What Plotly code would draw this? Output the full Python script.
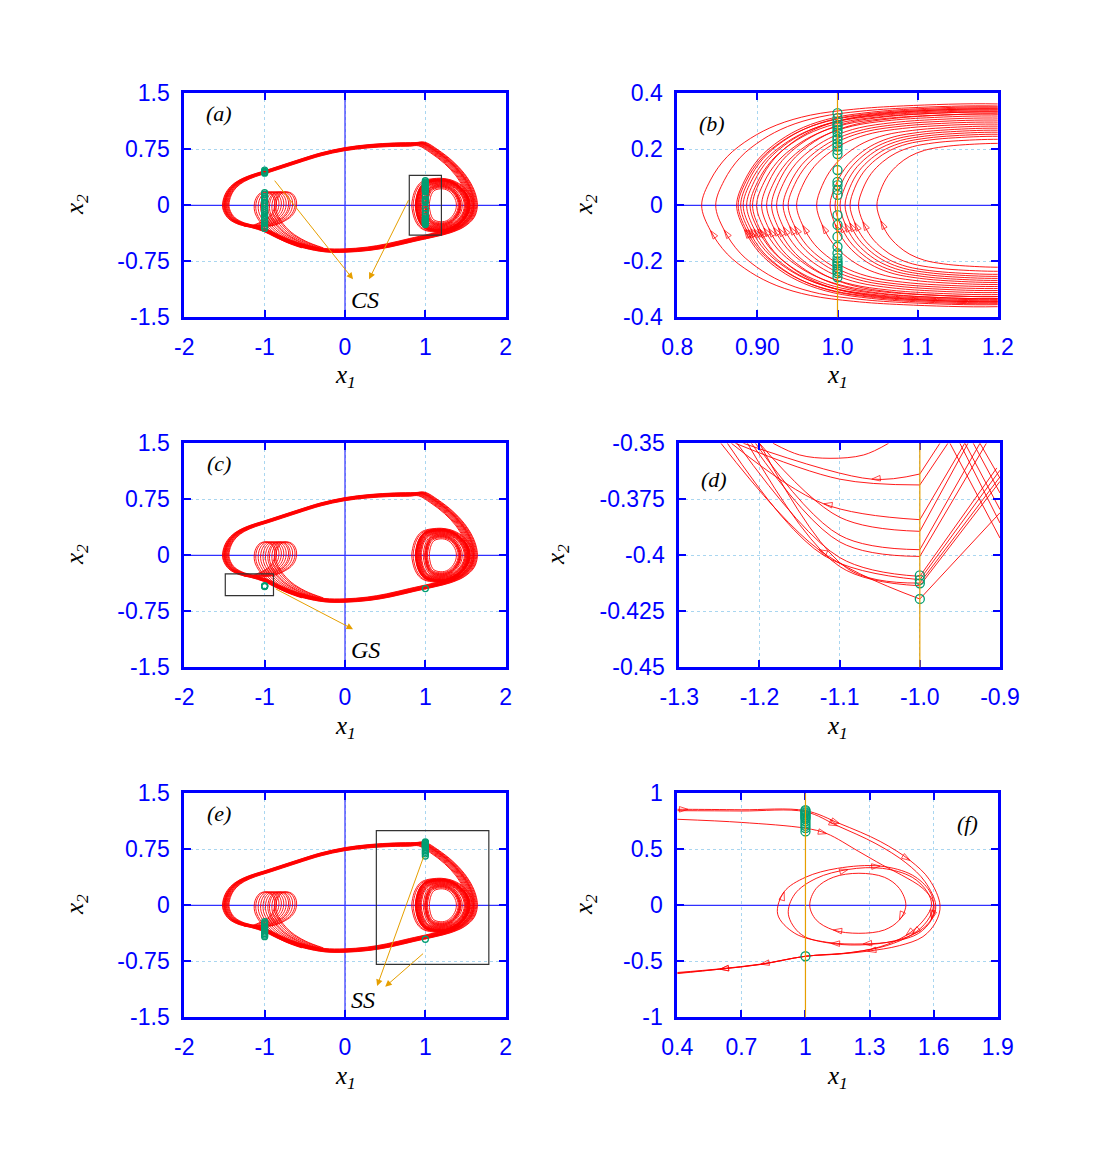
import plotly.graph_objects as go

RED = '#ff0000'
GREEN = '#009e73'
ORANGE = '#e69f00'
BLUE = '#0000ff'

# ---------------------------------------------------------------
# attractor of panels (a), (c), (e)
# ---------------------------------------------------------------
# big orbit, clockwise, starting at the left-most point of the left lobe
orbit_x1 = [-1.50, -1.47, -1.40, -1.30, -1.15, -1.00, -0.80, -0.60, -0.30, 0.00,
            0.30, 0.60, 0.85, 0.97, 1.13, 1.31, 1.45, 1.55, 1.60, 1.61,
            1.57, 1.45, 1.28, 1.10, 0.85, 0.55, 0.30, 0.00, -0.25, -0.50,
            -0.70, -0.85, -1.00, -1.15, -1.30, -1.42, -1.48, -1.50]
orbit_x2 = [0.00, 0.14, 0.25, 0.33, 0.40, 0.45, 0.52, 0.59, 0.69, 0.76,
            0.80, 0.82, 0.825, 0.83, 0.73, 0.58, 0.42, 0.25, 0.10, -0.02,
            -0.16, -0.28, -0.36, -0.41, -0.47, -0.545, -0.59, -0.615, -0.61, -0.56,
            -0.49, -0.42, -0.34, -0.29, -0.25, -0.18, -0.09, 0.00]
# size of the successive passes of the big orbit (width of the band)
orbit_scale = [0.955, 0.962, 0.969, 0.976, 0.982, 0.988, 0.993, 0.997, 1.0, 1.004, 1.009, 1.015, 1.02]
orbit_centre = [-0.25, 0.08]

# one pass through the small loops next to x1 = -1
small_x1 = [-0.40, -0.62, -0.80, -0.92, -0.985, -0.98, -0.93, -0.86, -0.78, -0.735,
            -0.745, -0.80, -0.90, -1.02, -1.12]
small_x2 = [-0.57, -0.48, -0.36, -0.22, -0.08, 0.06, 0.15, 0.18, 0.15, 0.06,
            -0.06, -0.15, -0.22, -0.27, -0.28]
# horizontal position of each of the small loops
small_shift = [-0.14, -0.12, -0.09, -0.06, -0.03, 0.0, 0.03, 0.05, 0.08, 0.11, 0.13]

# outer loop round the right focus (read in panel b), clockwise from its left tip
right_x1 = [0.830, 0.841, 0.862, 0.891, 0.924, 0.966, 1.020, 1.082, 1.200, 1.320,
            1.430, 1.520, 1.580, 1.600, 1.580, 1.520, 1.430, 1.320, 1.200, 1.082,
            1.020, 0.966, 0.924, 0.891, 0.862, 0.841, 0.830]
right_x2 = [0.000, 0.090, 0.174, 0.239, 0.287, 0.322, 0.343, 0.355, 0.362, 0.340,
            0.285, 0.200, 0.105, 0.000, -0.105, -0.200, -0.285, -0.340, -0.362, -0.355,
            -0.343, -0.322, -0.287, -0.239, -0.174, -0.090, 0.000]
right_centre = 1.22
# widths / heights of the other loops relative to the outer one
right_sx = [0.999, 0.954, 0.887, 0.882, 0.874, 0.866, 0.855, 0.844, 0.836, 0.823,
            0.807, 0.791, 0.775, 0.759, 0.738, 0.722, 0.695, 0.631, 0.588, 0.572,
            0.556, 0.540, 0.524, 0.497, 0.438]
right_sy = [1.00, 0.98, 0.97, 0.95, 0.96, 0.93, 0.94, 0.92, 0.95, 0.90,
            0.92, 0.88, 0.90, 0.86, 0.84, 0.82, 0.80, 0.78, 0.76, 0.74,
            0.72, 0.70, 0.68, 0.65, 0.61]

# section points (x1 = +-1)
a_left_x2 = [0.47, 0.455, 0.44, 0.43, 0.17, 0.15, 0.12, 0.10, 0.07, 0.04, 0.02, -0.01,
             -0.04, -0.07, -0.10, -0.13, -0.16, -0.19, -0.22, -0.25, -0.28, -0.31]
a_right_x2 = [0.329, 0.311, 0.297, 0.287, 0.28, 0.269, 0.26, 0.245, 0.235, 0.221, 0.21,
              0.197, 0.183, 0.126, 0.084, 0.072, 0.055, 0.037, -0.035, -0.07, -0.112,
              -0.148, -0.171, -0.189, -0.2, -0.207, -0.215, -0.225, -0.235, -0.243, -0.257]
c_left_x2 = [-0.409, -0.411, -0.4125, -0.4195]
c_right_x2 = [-0.445]
e_left_x2 = [-0.22, -0.24, -0.26, -0.28, -0.30, -0.32, -0.34, -0.36, -0.38, -0.40, -0.42]
e_right_x2 = [0.85, 0.84, 0.83, 0.82, 0.81, 0.80, 0.79, 0.78, 0.77, 0.75, 0.73, 0.71,
              0.69, 0.66, -0.455]

# ---------------------------------------------------------------
# panel (d): pieces of orbit near x1 = -1, listed in the direction of flow
# (end of right branch -> crossing of x1 = -1 -> middle -> top of left branch)
# ---------------------------------------------------------------
d_end_x1 = [-0.975, -0.965, -0.944, -0.940, -0.925, -0.917, -0.904, -0.900, -0.900, -0.900, -0.900]
d_end_x2 = [-0.350, -0.350, -0.350, -0.350, -0.350, -0.350, -0.361, -0.362, -0.365, -0.367, -0.381]
d_cross_x2 = [-0.3637, -0.3686, -0.3841, -0.3893, -0.3975, -0.4005, -0.4094, -0.4109, -0.4124, -0.4136, -0.4195]
d_mid_x1 = [-1.060, -1.100, -1.120, -1.100, -1.100, -1.100, -1.100, -1.120, -1.090, -1.100, -1.126]
d_mid_x2 = [-0.3660, -0.3660, -0.3770, -0.3830, -0.3910, -0.3940, -0.4010, -0.4000, -0.4060, -0.4050, -0.3975]
d_top_x1 = [-1.220, -1.230, -1.235, -1.200, -1.205, -1.210, -1.228, -1.240, -1.200, -1.215, -1.248]
d_arrow = [1, 0, 1, 0, 0, 0, 0, 0, 0, 0, 1]
d_u_x1 = [-1.183, -1.150, -1.112, -1.070, -1.039]
d_u_x2 = [-0.350, -0.3552, -0.3567, -0.3552, -0.350]
d_cross_lines_x1 = [[-0.9624, -0.90], [-0.9437, -0.90], [-0.9333, -0.90], [-0.925, -0.90], [-0.950, -0.90]]
d_cross_lines_x2 = [[-0.350, -0.3923], [-0.350, -0.3796], [-0.350, -0.3722], [-0.350, -0.3656], [-0.350, -0.3856]]

# ---------------------------------------------------------------
# panel (f): three passes near the right focus, listed along the flow
# ---------------------------------------------------------------
f1_x1 = [0.40, 0.45, 0.70, 1.00, 1.16, 1.35, 1.49, 1.58, 1.63, 1.61, 1.55, 1.44, 1.29, 1.16, 1.00, 0.79, 0.60, 0.40]
f1_x2 = [0.857, 0.857, 0.853, 0.845, 0.73, 0.57, 0.40, 0.23, 0.00, -0.15, -0.28, -0.36, -0.41, -0.435, -0.455, -0.525, -0.567, -0.60]
f1_arrow = [0, 1, 0, 0, 1, 0, 1, 0, 0, 0, 0, 0, 1, 0, 0, 1, 0, 0]
f2_x1 = [0.40, 0.70, 1.00, 1.15, 1.33, 1.47, 1.56, 1.61, 1.59, 1.53, 1.42, 1.27, 1.10, 0.95, 0.87,
         0.90, 1.00, 1.15, 1.35, 1.50, 1.58, 1.60, 1.57, 1.50, 1.38, 1.22, 1.00, 0.79, 0.60, 0.40]
f2_x2 = [0.845, 0.842, 0.835, 0.71, 0.55, 0.38, 0.21, 0.00, -0.13, -0.25, -0.32, -0.345, -0.33, -0.25, -0.08,
         0.12, 0.25, 0.33, 0.35, 0.27, 0.13, 0.00, -0.14, -0.26, -0.36, -0.42, -0.455, -0.528, -0.570, -0.605]
f2_arrow = [0, 0, 0, 1, 0, 0, 0, 0, 1, 0, 0, 1, 0, 0, 0,
            1, 0, 0, 1, 0, 0, 0, 0, 1, 0, 0, 0, 0, 1, 0]
f3_x1 = [0.40, 0.70, 1.00, 1.10, 1.25, 1.36, 1.45, 1.55, 1.60, 1.59, 1.54, 1.45, 1.30, 1.12, 0.98, 0.92,
         0.95, 1.05, 1.20, 1.36, 1.50, 1.57, 1.59, 1.55, 1.47, 1.35, 1.18, 1.00, 0.79, 0.60, 0.40]
f3_x2 = [0.768, 0.74, 0.688, 0.64, 0.48, 0.36, 0.27, 0.15, 0.02, -0.12, -0.22, -0.30, -0.35, -0.34, -0.26, -0.08,
         0.10, 0.24, 0.32, 0.33, 0.25, 0.12, 0.0, -0.14, -0.27, -0.37, -0.43, -0.455, -0.528, -0.57, -0.61]
f3_arrow = [0, 0, 0, 1, 0, 0, 0, 0, 0, 1, 0, 0, 0, 1, 0, 0,
            0, 0, 1, 0, 0, 0, 0, 0, 1, 0, 0, 0, 0, 1, 0]
f4_x1 = [1.02, 1.05, 1.13, 1.25, 1.37, 1.44, 1.47, 1.44, 1.37, 1.25, 1.13, 1.05, 1.02]
f4_x2 = [0.0, 0.15, 0.25, 0.286, 0.25, 0.15, 0.0, -0.13, -0.22, -0.25, -0.22, -0.13, 0.0]
f4_arrow = [0, 0, 0, 0, 0, 0, 0, 1, 0, 0, 1, 0, 0]

# axis ranges of the six panels
range_big_x1 = [-2, 2]
range_big_x2 = [-1.5, 1.5]
range_b_x1 = [0.8, 1.2]
range_f_x1 = [0.4, 1.9]

fig = go.Figure()


def red_line(x, y, xa, arrows=None, width=0.9, shape='spline'):
    tr = dict(x=x, y=y, xaxis='x' + xa, yaxis='y' + xa, mode='lines',
              line=dict(color=RED, width=width, shape=shape),
              hoverinfo='skip', showlegend=False)
    if arrows is not None:
        tr['mode'] = 'lines+markers'
        tr['marker'] = dict(symbol='arrow-open', size=[9 if a else 0 for a in arrows],
                            angleref='previous', color=RED, line=dict(color=RED, width=1))
    fig.add_trace(go.Scatter(**tr))


def blue_line(x, y, xa):
    fig.add_trace(go.Scatter(x=x, y=y, xaxis='x' + xa, yaxis='y' + xa, mode='lines',
                             line=dict(color='#3030ff', width=1.2), hoverinfo='skip',
                             showlegend=False))


def section(x1, x2s, xa, size):
    fig.add_trace(go.Scatter(x=[x1] * len(x2s), y=x2s, xaxis='x' + xa, yaxis='y' + xa,
                             mode='markers', hoverinfo='skip', showlegend=False,
                             marker=dict(symbol='circle-open', size=size, color=GREEN,
                                         line=dict(color=GREEN, width=1.3))))


def right_loop(i):
    xs = [right_centre + (x - right_centre) * right_sx[i] for x in right_x1]
    ys = [y * right_sy[i] for y in right_x2]
    return xs, ys


# solid blue axes through the origin (drawn first: over the dotted grid, under the curves)
for xa in ['', '3', '5']:
    blue_line([0, 0], range_big_x2, xa)
    blue_line(range_big_x1, [0, 0], xa)
blue_line(range_b_x1, [0, 0], '2')
blue_line(range_f_x1, [0, 0], '6')

# attractor drawn in (a), (c), (e)
for xa in ['', '3', '5']:
    for s in orbit_scale:
        red_line([orbit_centre[0] + (x - orbit_centre[0]) * s for x in orbit_x1],
                 [orbit_centre[1] + (y - orbit_centre[1]) * s for y in orbit_x2], xa)
    for d in small_shift:
        red_line([x + d for x in small_x1], small_x2, xa)
    for i in range(len(right_sx)):
        xs, ys = right_loop(i)
        red_line(xs, ys, xa)

# (b) : zoom on the right loops
for i in range(len(right_sx)):
    xs, ys = right_loop(i)
    red_line(xs, ys, '2', arrows=[1 if k == 25 else 0 for k in range(len(xs))])

# (d)
red_line(d_u_x1, d_u_x2, '4')
for i in range(len(d_cross_x2)):
    red_line([d_end_x1[i], -1.0], [d_end_x2[i], d_cross_x2[i]], '4', shape='linear')
    red_line([-1.0, d_mid_x1[i], d_top_x1[i]], [d_cross_x2[i], d_mid_x2[i], -0.35], '4',
             arrows=[0, d_arrow[i], 0])
for xs, ys in zip(d_cross_lines_x1, d_cross_lines_x2):
    red_line(xs, ys, '4', shape='linear')

# (f)
red_line(f1_x1, f1_x2, '6', arrows=f1_arrow)
red_line(f2_x1, f2_x2, '6', arrows=f2_arrow)
red_line(f3_x1, f3_x2, '6', arrows=f3_arrow)
red_line(f4_x1, f4_x2, '6', arrows=f4_arrow)

# switching lines x1 = 1 / -1 in the zooms
for xa, xv in [('2', 1.0), ('4', -1.0), ('6', 1.0)]:
    fig.add_shape(type='line', xref='x' + xa, yref='y' + xa + ' domain', x0=xv, x1=xv,
                  y0=0, y1=1, line=dict(color=ORANGE, width=1.2), layer='above')

# section points
section(-1.0, a_left_x2, '', 6)
section(1.0, a_right_x2, '', 6)
section(1.0, a_right_x2, '2', 9)
section(-1.0, c_left_x2, '3', 6)
section(1.0, c_right_x2, '3', 6)
section(-1.0, c_left_x2, '4', 9)
section(-1.0, e_left_x2, '5', 6)
section(1.0, e_right_x2, '5', 6)
section(1.0, e_right_x2, '6', 9)

# zoom rectangles
for xa, r in [('', [0.8, 1.2, -0.4, 0.4]), ('3', [-1.49, -0.89, -0.54, -0.25]),
              ('5', [0.39, 1.79, -0.79, 1.0])]:
    fig.add_shape(type='rect', xref='x' + xa, yref='y' + xa, x0=r[0], x1=r[1], y0=r[2], y1=r[3],
                  line=dict(color='#333333', width=1.2))

# orange arrows and labels
arrows = [('', -0.89, 0.35, 0.10, -0.99), ('', 0.80, 0.09, 0.30, -0.99),
          ('3', -0.88, -0.44, 0.10, -0.99),
          ('5', 0.985, 0.67, 0.40, -1.08), ('5', 0.99, -0.63, 0.50, -1.09)]
for xa, x0, y0, x1, y1 in arrows:
    fig.add_annotation(xref='x' + xa, yref='y' + xa, axref='x' + xa, ayref='y' + xa,
                       x=x1, y=y1, ax=x0, ay=y0, text='', showarrow=True,
                       arrowhead=2, arrowsize=1.3, arrowwidth=1, arrowcolor=ORANGE)

serif = dict(family='Liberation Serif, Times New Roman, serif', size=24, color='black')
for xa, txt, x, y in [('', 'CS', 0.25, -1.27), ('3', 'GS', 0.25, -1.27), ('5', 'SS', 0.22, -1.27)]:
    fig.add_annotation(xref='x' + xa, yref='y' + xa, x=x, y=y, text='<i>' + txt + '</i>',
                       showarrow=False, font=serif, xanchor='center', yanchor='middle')

# pixel positions of the reference -> paper fractions (the page adds an 8 px body margin)
W, H = 1100, 1154
OFF = 8


def px_x(p):
    return (p - OFF) / W


def px_y(p):
    return 1 - (p - OFF) / H


# panel letters
for txt, px, py in [('(a)', 219, 113), ('(b)', 712, 123), ('(c)', 219, 463),
                    ('(d)', 714, 479), ('(e)', 219, 813), ('(f)', 967, 823)]:
    fig.add_annotation(xref='paper', yref='paper', x=px_x(px), y=px_y(py), text='<i>' + txt + '</i>',
                       showarrow=False, xanchor='center', yanchor='middle',
                       font=dict(family=serif['family'], size=22, color='black'))

# axis titles
title_font = dict(family=serif['family'], size=25, color='black')
for px in [345, 837]:
    for py in [377, 727, 1077]:
        fig.add_annotation(xref='paper', yref='paper', x=px_x(px), y=px_y(py),
                           xanchor='center', yanchor='middle',
                           text='<i>x<sub>1</sub></i>', showarrow=False, font=title_font)
for px, py in [(76, 205), (585, 205), (76, 555), (557, 555), (76, 905), (585, 905)]:
    fig.add_annotation(xref='paper', yref='paper', x=px_x(px), y=px_y(py), textangle=-90,
                       xanchor='center', yanchor='middle',
                       text='<i>x<sub>2</sub></i>', showarrow=False, font=title_font)


def axis(domain, rng, vals, text, anchor):
    return dict(domain=domain, range=rng, tickvals=vals, ticktext=text, anchor=anchor,
                ticks='inside', ticklen=7, tickwidth=1.5, tickcolor=BLUE,
                showline=True, linecolor=BLUE, linewidth=3, mirror='ticks',
                showgrid=True, gridcolor='#a9d6f0', griddash='dot', gridwidth=1,
                zeroline=False,
                tickfont=dict(family='Liberation Sans, Arial', size=23, color=BLUE),
                ticklabelstandoff=7, automargin=False, fixedrange=True)


col_l = [px_x(184.3), px_x(505.7)]
col_r = [px_x(677.3), px_x(997.7)]
col_d = [px_x(679.3), px_x(1000.0)]
rows = [[px_y(317.3), px_y(93.3)], [px_y(667.3), px_y(443.3)], [px_y(1017.3), px_y(793.3)]]

big_x = (range_big_x1, [-2, -1, 0, 1, 2], ['-2', '-1', '0', '1', '2'])
big_y = (range_big_x2, [-1.5, -0.75, 0, 0.75, 1.5], ['-1.5', '-0.75', '0', '0.75', '1.5'])
b_x = (range_b_x1, [0.8, 0.9, 1.0, 1.1, 1.2], ['0.8', '0.90', '1.0', '1.1', '1.2'])
b_y = ([-0.4, 0.4], [-0.4, -0.2, 0, 0.2, 0.4], ['-0.4', '-0.2', '0', '0.2', '0.4'])
d_x = ([-1.3, -0.9], [-1.3, -1.2, -1.1, -1.0, -0.9], ['-1.3', '-1.2', '-1.1', '-1.0', '-0.9'])
d_y = ([-0.45, -0.35], [-0.45, -0.425, -0.4, -0.375, -0.35], ['-0.45', '-0.425', '-0.4', '-0.375', '-0.35'])
f_x = (range_f_x1, [0.4, 0.7, 1.0, 1.3, 1.6, 1.9], ['0.4', '0.7', '1', '1.3', '1.6', '1.9'])
f_y = ([-1, 1], [-1, -0.5, 0, 0.5, 1], ['-1', '-0.5', '0', '0.5', '1'])

panels = [('', col_l, rows[0], big_x, big_y), ('2', col_r, rows[0], b_x, b_y),
          ('3', col_l, rows[1], big_x, big_y), ('4', col_d, rows[1], d_x, d_y),
          ('5', col_l, rows[2], big_x, big_y), ('6', col_r, rows[2], f_x, f_y)]
layout = {}
for xa, dx, dy, ax_x, ax_y in panels:
    layout['xaxis' + xa] = axis(dx, *ax_x, 'y' + xa)
    layout['yaxis' + xa] = axis(dy, *ax_y, 'x' + xa)

fig.update_layout(width=W, height=H,
                  margin=dict(l=0, r=0, t=0, b=0, pad=0, autoexpand=False),
                  paper_bgcolor='white', plot_bgcolor='white', showlegend=False, **layout)

fig.write_html("out.html")
